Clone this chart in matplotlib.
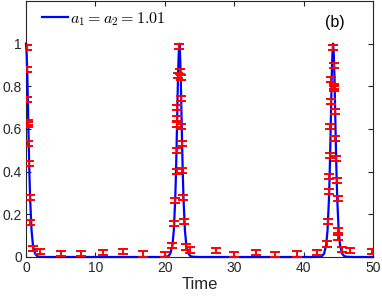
import numpy as np
import matplotlib
matplotlib.use("Agg")
import matplotlib.pyplot as plt

plt.rcParams['font.family'] = ['Liberation Sans', 'DejaVu Sans']
plt.rcParams['mathtext.fontset'] = 'cm'

# Curve: peak centres and one-sided peak profile
peak_times = [0.0, 22.1, 44.25]
profile_offset = [0.0, 0.1, 0.2, 0.3, 0.4, 0.5, 0.6, 0.8, 1.0, 1.3, 1.6, 2.0, 3.0]
profile_value = [1.0, 0.95, 0.84, 0.68, 0.52, 0.38, 0.27, 0.125, 0.055, 0.016, 0.004, 0.001, 0.0]
t_end = 50.0

# Error-bar samples
err_t = [0.17, 0.2, 0.2, 0.25, 0.27, 0.3, 0.5, 0.53, 0.62, 0.96, 2.0,
         5.1, 7.9, 11.1, 14.0, 16.9, 20.05,
         21.04, 21.33, 21.47, 21.7, 21.75, 21.8, 21.8, 21.8, 21.95,
         22.1, 22.25, 22.28, 22.35, 22.4, 22.45, 22.43, 22.67, 22.77, 23.1, 23.7,
         27.4, 30.0, 33.1, 35.9, 39.0, 41.9, 43.3, 43.55, 43.65, 43.7, 43.8, 43.8,
         44.0, 44.0, 44.24, 44.4, 44.4, 44.45, 44.5, 44.55, 44.65, 44.75, 44.9,
         45.0, 45.0, 45.55, 46.7, 49.8]
err_y = [0.98, 0.88, 0.74, 0.63, 0.62, 0.53, 0.44, 0.28, 0.16, 0.04, 0.025,
         0.015, 0.015, 0.02, 0.025, 0.014, 0.01,
         0.052, 0.158, 0.265, 0.40, 0.50, 0.62, 0.65, 0.70, 0.85,
         0.985, 0.87, 0.84, 0.745, 0.61, 0.53, 0.405, 0.28, 0.166, 0.047, 0.033,
         0.03, 0.011, 0.02, 0.01, 0.014, 0.02, 0.061, 0.166, 0.307, 0.377, 0.474, 0.61,
         0.73, 0.83, 0.98, 0.897, 0.80, 0.79, 0.68, 0.555, 0.46, 0.36, 0.275,
         0.125, 0.09, 0.035, 0.03, 0.025]
err_e = [0.012] * len(err_t)

x_ticks = [0, 10, 20, 30, 40, 50]
y_ticks = [0, 0.2, 0.4, 0.6, 0.8, 1]
y_tick_labels = ['0', '0.2', '0.4', '0.6', '0.8', '1']

# Build curve from peaks and profile
ct, cy = [], []
for p in peak_times:
    for o, v in zip(profile_offset[::-1], profile_value[::-1]):
        if p - o >= 0 and o > 0:
            ct.append(p - o); cy.append(v)
    for o, v in zip(profile_offset, profile_value):
        if p + o <= t_end:
            ct.append(p + o); cy.append(v)
ct.append(t_end); cy.append(0.0)

fig = plt.figure(figsize=(3.82, 2.97), dpi=100)
ax = fig.add_axes([26/382, 40/297, 347/382, 256/297])

ax.plot(ct, cy, color='#0000ff', lw=1.6, label=r'$a_1 = a_2 = 1.01$', zorder=3, clip_on=False)
ax.errorbar(err_t, err_y, yerr=err_e, fmt='none', ecolor='red', elinewidth=1.4,
            capsize=3.5, capthick=1.4, zorder=4)

ax.set_xlim(0, 50)
ax.set_ylim(0, 1.2)
ax.set_xticks(x_ticks)
ax.set_yticks(y_ticks)
ax.set_yticklabels(y_tick_labels)
ax.tick_params(direction='in', top=True, right=True, length=3.5, width=0.8,
               labelsize=10, colors='#262626', pad=3)
for s in ax.spines.values():
    s.set_color('#262626')
    s.set_linewidth(0.8)
ax.set_xlabel('Time', fontsize=12, color='#262626', labelpad=1)
ax.text(44.5, 1.10, '(b)', fontsize=11.5, ha='center', va='center', color='black')
leg = ax.legend(loc='upper left', frameon=False, fontsize=11.5, handlelength=1.6,
                handletextpad=0.15, borderpad=0.0, borderaxespad=0.0,
                bbox_to_anchor=(0.046, 0.965))

fig.savefig('out.png', dpi=100)
